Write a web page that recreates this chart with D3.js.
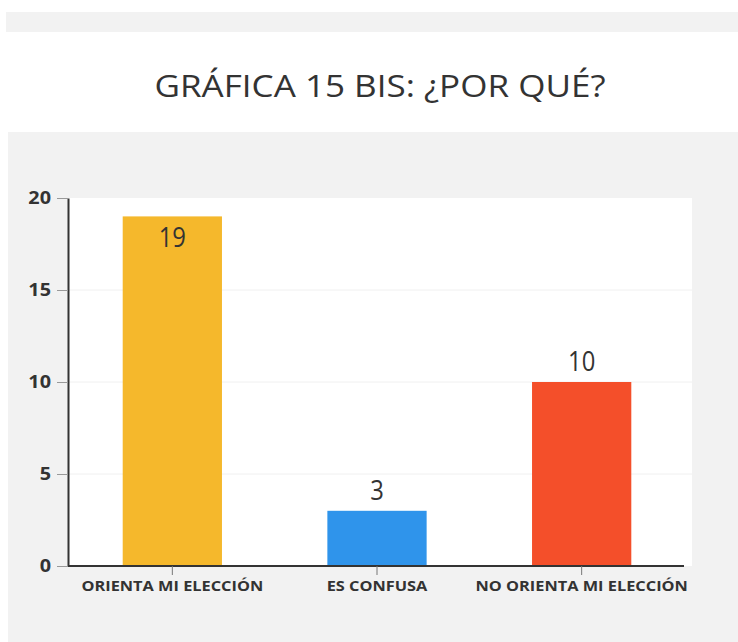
<!DOCTYPE html>
<html>
<head>
<meta charset="utf-8">
<script src="https://cdn.jsdelivr.net/npm/d3@7"></script>
<style>
  body { margin: 0; background: #fff; }
  svg { display: block; font-family: "Open Sans", sans-serif; }
</style>
</head>
<body>
<svg id="chart" width="738" height="642"></svg>
<script>
const categories = ["ORIENTA MI ELECCIÓN", "ES CONFUSA", "NO ORIENTA MI ELECCIÓN"];
const values = [19, 3, 10];
const colors = ["#f5b82c", "#2f94eb", "#f44f2a"];
const yTicks = [0, 5, 10, 15, 20];
const title = "GRÁFICA 15 BIS: ¿POR QUÉ?";

const svg = d3.select("#chart");

// the source picture is a little stretched sideways, so widen text to match
function stretch(sel, k) {
    sel.each(function() {
        const len = this.getComputedTextLength();
        d3.select(this).attr("textLength", len * k).attr("lengthAdjust", "spacingAndGlyphs");
    });
}

// page backgrounds
svg.append("rect").attr("x", 6).attr("y", 12).attr("width", 732).attr("height", 20).attr("fill", "#f2f2f2");
svg.append("rect").attr("x", 8).attr("y", 132).attr("width", 730).attr("height", 510).attr("fill", "#f2f2f2");

svg.append("text")
    .attr("x", 380)
    .attr("y", 97)
    .attr("text-anchor", "middle")
    .attr("font-size", 31)
    .attr("fill", "#333")
    .text(title)
    .call(stretch, 1.13);

const x = d3.scaleBand()
    .domain(categories)
    .range([70, 684])
    .padding(0);

const y = d3.scaleLinear()
    .domain([0, 20])
    .range([566, 198]);

const barW = x.bandwidth() * 0.485;

// white plot area
svg.append("rect")
    .attr("x", 68).attr("y", y(20))
    .attr("width", 692 - 68).attr("height", y(0) - y(20))
    .attr("fill", "#fff");

// grid lines
svg.append("g")
    .selectAll("line")
    .data(yTicks.filter(d => d > 0 && d < 20))
    .enter().append("line")
    .attr("x1", 68).attr("x2", 692)
    .attr("y1", d => y(d)).attr("y2", d => y(d))
    .attr("stroke", "#f0f0f0");

// bars
svg.append("g")
    .selectAll("rect")
    .data(values)
    .enter().append("rect")
    .attr("x", (d, i) => x(categories[i]) + (x.bandwidth() - barW) / 2)
    .attr("y", d => y(d))
    .attr("width", barW)
    .attr("height", d => y(0) - y(d))
    .attr("fill", (d, i) => colors[i]);

// value labels
svg.append("g")
    .selectAll("text")
    .data(values)
    .enter().append("text")
    .attr("x", (d, i) => x(categories[i]) + x.bandwidth() / 2)
    .attr("y", d => d > 17 ? y(d) + 31 : y(d) - 11)
    .attr("text-anchor", "middle")
    .attr("font-size", 28)
    .attr("fill", "#333")
    .text(d => d)
    .call(stretch, 0.85);

// y axis
const yAxis = svg.append("g")
    .attr("transform", "translate(68,0)")
    .call(d3.axisLeft(y).tickValues(yTicks).tickSize(11).tickSizeOuter(0).tickPadding(6));
yAxis.select(".domain").attr("stroke", "#333").attr("stroke-width", 2);
yAxis.selectAll(".tick line").attr("stroke", "#999");
yAxis.selectAll(".tick text")
    .attr("font-family", "Open Sans")
    .attr("font-weight", "bold")
    .attr("font-size", 18)
    .attr("fill", "#333")
    .call(stretch, 1.1);

// x axis
const xAxis = svg.append("g")
    .attr("transform", "translate(0,566)")
    .call(d3.axisBottom(x).tickSize(9).tickSizeOuter(0).tickPadding(5));
xAxis.select(".domain").attr("stroke", "#333").attr("stroke-width", 2).attr("d", "M68,0H684");
xAxis.selectAll(".tick line").attr("stroke", "#777");
xAxis.selectAll(".tick text")
    .attr("font-family", "Open Sans")
    .attr("font-weight", "bold")
    .attr("font-size", 15)
    .attr("fill", "#333")
    .call(stretch, 1.09);
</script>
</body>
</html>
